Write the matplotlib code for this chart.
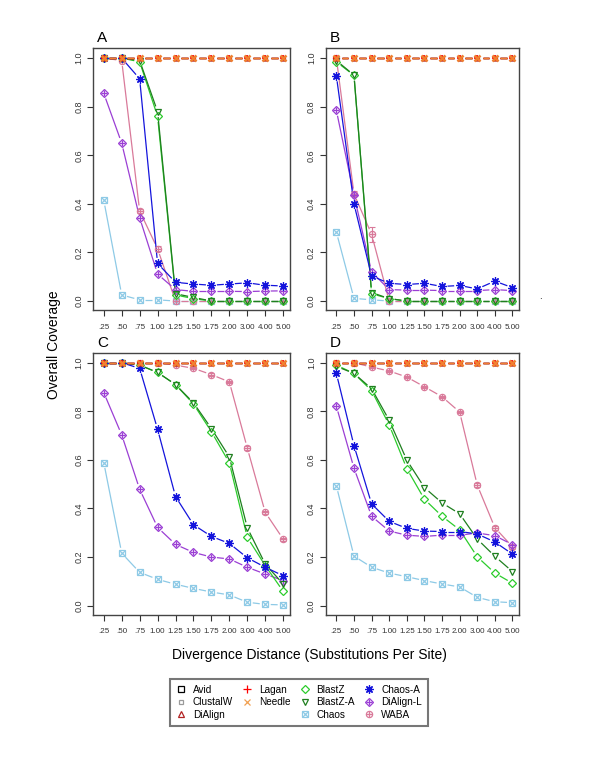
import numpy as np
import matplotlib.pyplot as plt
from matplotlib.lines import Line2D
from matplotlib.legend_handler import HandlerTuple

plt.rcParams['font.family'] = ['Liberation Sans', 'DejaVu Sans']

# x categories (divergence distance)
x_labels = ['.25', '.50', '.75', '1.00', '1.25', '1.50', '1.75', '2.00', '3.00', '4.00', '5.00']

# methods that stay at full coverage in every panel
perfect = [1.00, 1.00, 1.00, 1.00, 1.00, 1.00, 1.00, 1.00, 1.00, 1.00, 1.00]

# panel A
a_blastz = [1.00, 1.00, 0.985, 0.76, 0.025, 0.01, 0.0, 0.0, 0.0, 0.0, 0.0]
a_blastz_a = [1.00, 1.00, 0.99, 0.78, 0.03, 0.015, 0.0, 0.0, 0.0, 0.0, 0.0]
a_chaos = [0.415, 0.025, 0.005, 0.005, 0.0, 0.0, 0.0, 0.0, 0.0, 0.0, 0.0]
a_chaos_a = [1.00, 1.00, 0.915, 0.155, 0.077, 0.07, 0.065, 0.07, 0.075, 0.065, 0.062]
a_dialign_l = [0.855, 0.65, 0.343, 0.111, 0.047, 0.04, 0.04, 0.04, 0.039, 0.041, 0.042]
a_waba = [1.00, 0.99, 0.371, 0.215, 0.0, 0.0, 0.0, 0.0, 0.0, 0.0, 0.0]

# panel B
b_blastz = [0.985, 0.929, 0.03, 0.01, 0.0, 0.0, 0.0, 0.0, 0.0, 0.0, 0.0]
b_blastz_a = [0.99, 0.93, 0.035, 0.01, 0.0, 0.0, 0.0, 0.0, 0.0, 0.0, 0.0]
b_chaos = [0.284, 0.011, 0.005, 0.0, 0.0, 0.0, 0.0, 0.0, 0.0, 0.0, 0.0]
b_chaos_a = [0.927, 0.40, 0.103, 0.073, 0.068, 0.073, 0.06, 0.064, 0.05, 0.082, 0.055]
b_dialign_l = [0.785, 0.436, 0.12, 0.047, 0.045, 0.045, 0.043, 0.043, 0.043, 0.047, 0.043]
b_waba = [1.00, 0.441, 0.275, 0.0, 0.0, 0.0, 0.0, 0.0, 0.0, 0.0, 0.0]

# panel C
c_blastz = [1.00, 1.00, 0.99, 0.96, 0.91, 0.83, 0.716, 0.588, 0.281, 0.165, 0.059]
c_blastz_a = [1.00, 1.00, 0.99, 0.96, 0.91, 0.835, 0.729, 0.612, 0.321, 0.171, 0.089]
c_chaos = [0.589, 0.216, 0.137, 0.108, 0.088, 0.071, 0.056, 0.044, 0.014, 0.005, 0.003]
c_chaos_a = [1.00, 1.00, 0.977, 0.726, 0.449, 0.333, 0.285, 0.256, 0.197, 0.158, 0.123]
c_dialign_l = [0.877, 0.703, 0.479, 0.322, 0.252, 0.219, 0.20, 0.192, 0.158, 0.13, 0.103]
c_waba = [1.00, 1.00, 1.00, 1.00, 0.99, 0.977, 0.951, 0.921, 0.649, 0.384, 0.274]

# panel D
d_blastz = [0.99, 0.956, 0.885, 0.744, 0.564, 0.438, 0.368, 0.312, 0.201, 0.134, 0.092]
d_blastz_a = [0.985, 0.956, 0.893, 0.763, 0.599, 0.486, 0.423, 0.378, 0.274, 0.203, 0.14]
d_chaos = [0.493, 0.204, 0.158, 0.134, 0.119, 0.103, 0.089, 0.077, 0.034, 0.016, 0.012]
d_chaos_a = [0.956, 0.659, 0.419, 0.347, 0.318, 0.307, 0.305, 0.305, 0.295, 0.262, 0.212]
d_dialign_l = [0.821, 0.566, 0.368, 0.307, 0.29, 0.285, 0.29, 0.29, 0.299, 0.288, 0.251]
d_waba = [1.00, 1.00, 0.982, 0.966, 0.941, 0.901, 0.86, 0.797, 0.496, 0.321, 0.242]

# WABA error bars
a_waba_err = [0.0, 0.005, 0.008, 0.01, 0.0, 0.0, 0.0, 0.0, 0.0, 0.0, 0.0]
b_waba_err = [0.0, 0.01, 0.03, 0.0, 0.0, 0.0, 0.0, 0.0, 0.0, 0.0, 0.0]
c_waba_err = [0.0, 0.0, 0.0, 0.0, 0.004, 0.004, 0.005, 0.005, 0.008, 0.006, 0.006]
d_waba_err = [0.0, 0.0, 0.004, 0.004, 0.005, 0.005, 0.005, 0.006, 0.008, 0.008, 0.008]

panels = {
    'A': (a_blastz, a_blastz_a, a_chaos, a_chaos_a, a_dialign_l, a_waba, a_waba_err),
    'B': (b_blastz, b_blastz_a, b_chaos, b_chaos_a, b_dialign_l, b_waba, b_waba_err),
    'C': (c_blastz, c_blastz_a, c_chaos, c_chaos_a, c_dialign_l, c_waba, c_waba_err),
    'D': (d_blastz, d_blastz_a, d_chaos, d_chaos_a, d_dialign_l, d_waba, d_waba_err),
}

# colour and markers (second marker is overlaid)
styles = {
    'Avid': ('black', [('s', 4.5)]),
    'ClustalW': ('#9a9a9a', [('s', 3.5)]),
    'DiAlign': ('#b22222', [('^', 5)]),
    'Lagan': ('red', [('+', 6)]),
    'Needle': ('#f0a050', [('x', 5)]),
    'BlastZ': ('#2ccc2c', [('D', 4)]),
    'BlastZ-A': ('#1f7f1f', [('v', 5)]),
    'Chaos': ('#8ecae6', [('s', 4.5), ('x', 4.5)]),
    'Chaos-A': ('#1414dc', [((8, 2, 0), 6)]),
    'DiAlign-L': ('#9b3fd4', [('D', 4.5), ('+', 5)]),
    'WABA': ('#d97a9a', [('o', 4.5), ('+', 4.5)]),
}
# the five overlapping full-coverage methods, drawn small so they merge
top_styles = {
    'Avid': ('black', 2.5, 0.8),
    'ClustalW': ('#9a9a9a', 2.5, 0.8),
    'DiAlign': ('#b22222', 3.5, 1.0),
    'Lagan': ('red', 4.0, 1.2),
    'Needle': ('#f08030', 4.0, 1.8),
}

x = np.arange(len(x_labels))
GAP = 5.5  # pixel gap between line and marker, like R type="b"


def gapped_line(ax, y, color, lw=0.9):
    pts = ax.transData.transform(np.column_stack([x, y]))
    inv = ax.transData.inverted()
    for p0, p1 in zip(pts[:-1], pts[1:]):
        d = p1 - p0
        n = np.hypot(*d)
        if n <= 2 * GAP:
            continue
        u = d / n
        seg = inv.transform(np.array([p0 + u * GAP, p1 - u * GAP]))
        ax.plot(seg[:, 0], seg[:, 1], color=color, lw=lw, zorder=2,
                solid_capstyle='butt')


def draw(ax, name, y, err=None):
    color, marks = styles[name]
    if err is not None:
        ax.errorbar(x, y, yerr=err, fmt='none', ecolor=color, elinewidth=0.8,
                    capsize=2.5, capthick=0.8, zorder=2)
    gapped_line(ax, y, color)
    for m, s in marks:
        ax.plot(x, y, linestyle='none', marker=m, markersize=s,
                markerfacecolor='none', markeredgecolor=color,
                markeredgewidth=0.9, zorder=3)


fig = plt.figure(figsize=(6, 7.77), dpi=100)
positions = {
    'A': [0.155, 0.601, 0.328, 0.337],
    'B': [0.543, 0.601, 0.322, 0.337],
    'C': [0.155, 0.209, 0.328, 0.337],
    'D': [0.543, 0.209, 0.322, 0.337],
}

for key, (bz, bza, ch, cha, dil, waba, waba_err) in panels.items():
    ax = fig.add_axes(positions[key])
    ax.set_xlim(-0.6, 10.37)
    ax.set_ylim(-0.037, 1.041)

    draw(ax, 'Chaos', ch)
    draw(ax, 'WABA', waba, waba_err)
    draw(ax, 'DiAlign-L', dil)
    draw(ax, 'BlastZ', bz)
    draw(ax, 'BlastZ-A', bza)
    draw(ax, 'Chaos-A', cha)
    for name in ['Avid', 'ClustalW', 'DiAlign', 'Lagan', 'Needle']:
        color, marks = styles[name]
        tcol, tsize, tmew = top_styles[name]
        gapped_line(ax, perfect, tcol, lw=1.0)
        ax.plot(x, perfect, linestyle='none', marker=marks[0][0],
                markersize=tsize, markerfacecolor='none',
                markeredgecolor=tcol, markeredgewidth=tmew, zorder=4)

    ax.set_xticks(x)
    ax.set_xticklabels(x_labels, fontsize=5.8, color='#333333')
    ax.set_yticks([0, 0.2, 0.4, 0.6, 0.8, 1.0])
    ax.set_yticklabels(['0.0', '0.2', '0.4', '0.6', '0.8', '1.0'],
                       fontsize=6.5, color='#333333', rotation=90, va='center')
    ax.tick_params(axis='x', length=4, pad=6, color='#333333')
    ax.tick_params(axis='y', length=4, pad=3, color='#333333')
    for sp in ax.spines.values():
        sp.set_color('#444444')
        sp.set_linewidth(1.0)
    ax.text(0.02, 1.012, key, transform=ax.transAxes, fontsize=11,
            ha='left', va='bottom')

fig.text(0.09, 0.556, 'Overall Coverage', rotation=90, fontsize=10,
         ha='center', va='center')
fig.text(0.515, 0.157, 'Divergence Distance (Substitutions Per Site)',
         fontsize=10, ha='center', va='center')
fig.text(0.9, 0.615, '.', fontsize=7, ha='center')

# legend
handles = []
labels = []
order = ['Avid', 'ClustalW', 'DiAlign', 'Lagan', 'Needle', None,
         'BlastZ', 'BlastZ-A', 'Chaos', 'Chaos-A', 'DiAlign-L', 'WABA']
for name in order:
    if name is None:
        handles.append(Line2D([], [], linestyle='none'))
        labels.append('')
        continue
    color, marks = styles[name]
    hs = tuple(Line2D([], [], linestyle='none', marker=m, markersize=s,
                      markerfacecolor='none', markeredgecolor=color,
                      markeredgewidth=0.9) for m, s in marks)
    handles.append(hs)
    labels.append(name)

leg = fig.legend(handles, labels, ncol=4, loc='center',
                 bbox_to_anchor=(0.498, 0.096), fontsize=7.2,
                 handler_map={tuple: HandlerTuple(ndivide=1)},
                 handlelength=1.0, handletextpad=0.7, columnspacing=0.9,
                 labelspacing=0.25, frameon=True, fancybox=False,
                 borderpad=0.6)
leg.get_frame().set_edgecolor('#555555')
leg.get_frame().set_linewidth(1.5)

fig.savefig('out.png', dpi=100)
